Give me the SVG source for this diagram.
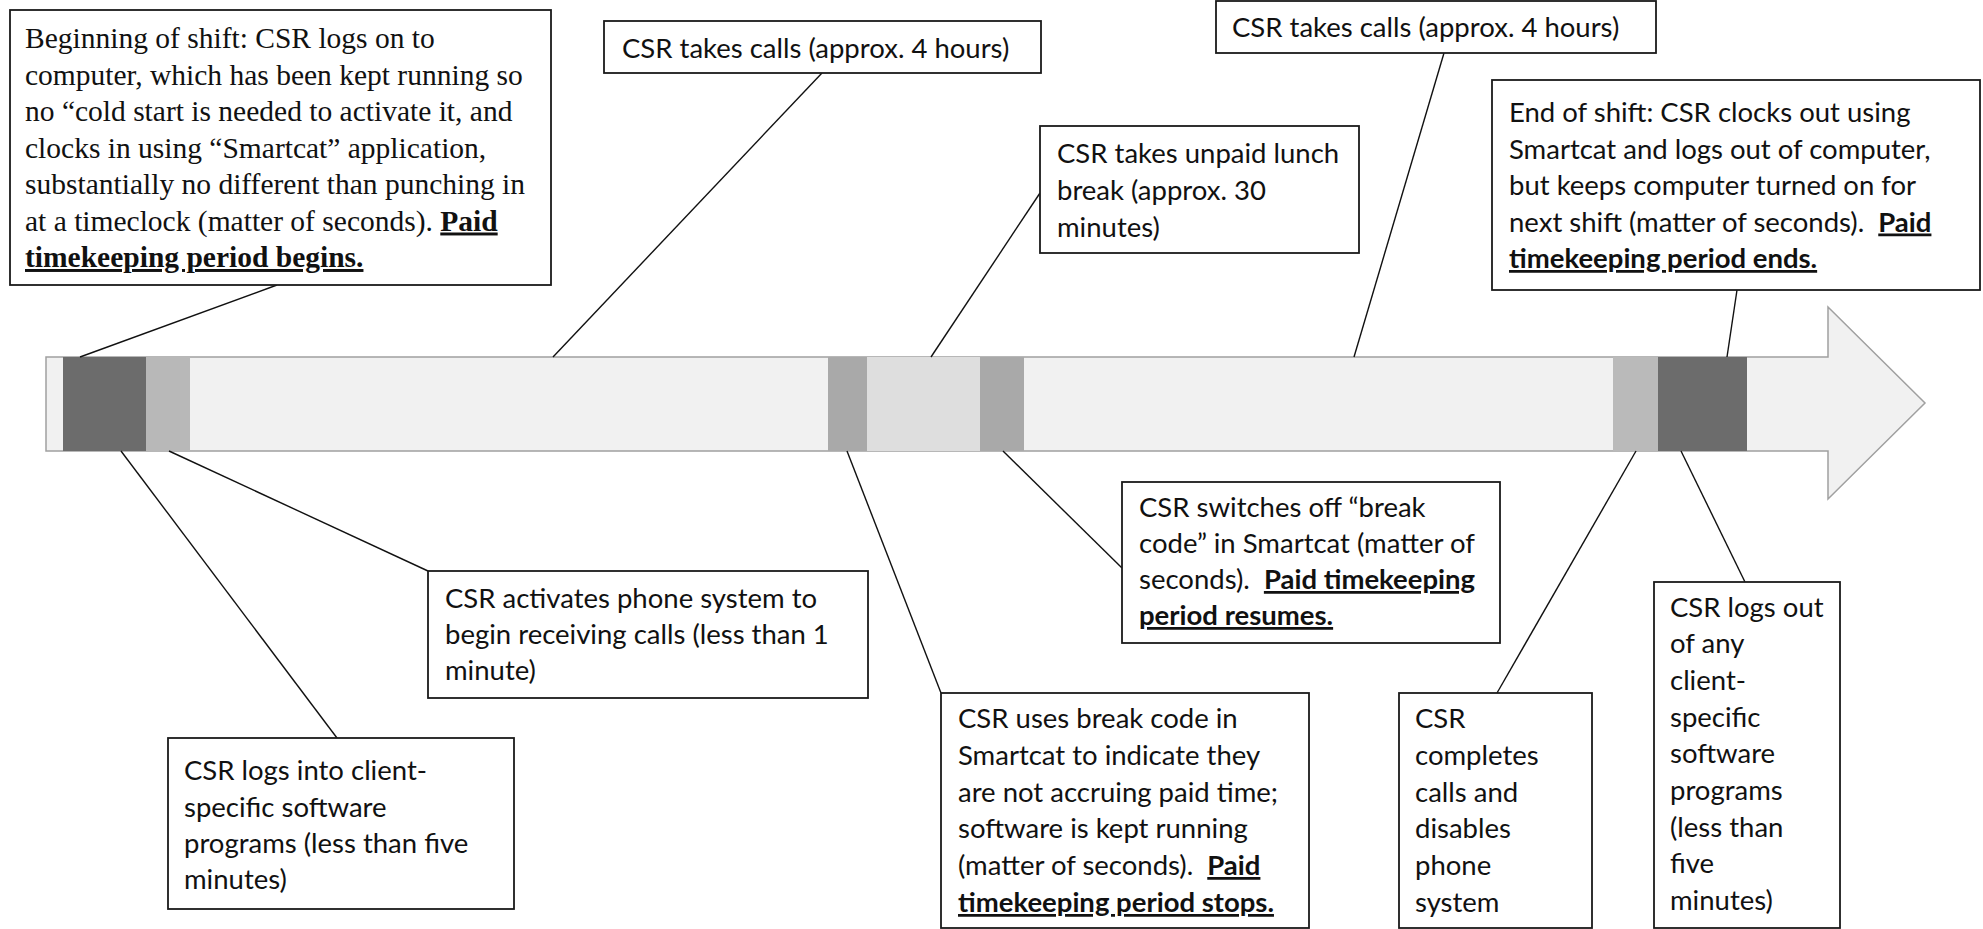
<svg xmlns="http://www.w3.org/2000/svg" width="1983" height="929" viewBox="0 0 1983 929">
<style>
.box{fill:#fff;stroke:#1a1a1a;stroke-width:1.8}
.tr{font-family:"Liberation Serif","Times New Roman",serif;font-size:29.5px;fill:#111;white-space:pre}
.ca{font-family:Lato,"Liberation Sans",sans-serif;font-size:27.5px;fill:#111;white-space:pre}
.b{font-weight:bold;text-decoration:underline}
.con line{stroke:#111;stroke-width:1.4}
</style>
<rect width="1983" height="929" fill="#fff"/>
<g id="timeline">
<path d="M46,357 H1828 V307 L1925,403 L1828,499 V451 H46 Z" fill="#f1f1f1" stroke="#a0a0a0" stroke-width="1.5"/>
<rect x="63" y="357" width="83" height="94" fill="#6c6c6c"/>
<rect x="146" y="357" width="44" height="94" fill="#b8b8b8"/>
<rect x="828" y="357" width="39" height="94" fill="#a9a9a9"/>
<rect x="867" y="357" width="113" height="94" fill="#dedede"/>
<rect x="980" y="357" width="44" height="94" fill="#a9a9a9"/>
<rect x="1613" y="357" width="45" height="94" fill="#bababa"/>
<rect x="1658" y="357" width="89" height="94" fill="#6c6c6c"/>
</g>
<g id="connectors" class="con">
<line x1="277" y1="285" x2="80" y2="357"/>
<line x1="822" y1="73" x2="553" y2="357"/>
<line x1="1040" y1="193" x2="931" y2="357"/>
<line x1="1444" y1="53" x2="1354" y2="357"/>
<line x1="1737" y1="290" x2="1727" y2="357"/>
<line x1="428" y1="571" x2="169" y2="451"/>
<line x1="337" y1="738" x2="121" y2="451"/>
<line x1="941" y1="693" x2="847" y2="451"/>
<line x1="1122" y1="568" x2="1003" y2="451"/>
<line x1="1497" y1="693" x2="1636" y2="451"/>
<line x1="1745" y1="582" x2="1681" y2="451"/>
</g>
<g id="node-begin">
<rect class="box" x="10" y="10" width="541" height="275"/>
<text class="tr" x="25" y="48">Beginning of shift: CSR logs on to</text>
<text class="tr" x="25" y="84.5">computer, which has been kept running so</text>
<text class="tr" x="25" y="121">no “cold start is needed to activate it, and</text>
<text class="tr" x="25" y="157.5">clocks in using “Smartcat” application,</text>
<text class="tr" x="25" y="194">substantially no different than punching in</text>
<text class="tr" x="25" y="230.5">at a timeclock (matter of seconds). <tspan class="b">Paid</tspan></text>
<text class="tr" x="25" y="267"><tspan class="b">timekeeping period begins.</tspan></text>
</g>
<g id="node-calls1">
<rect class="box" x="604" y="21" width="437" height="52"/>
<text class="ca" x="622" y="58">CSR takes calls (approx. 4 hours)</text>
</g>
<g id="node-calls2">
<rect class="box" x="1216" y="1" width="440" height="52"/>
<text class="ca" x="1232" y="37">CSR takes calls (approx. 4 hours)</text>
</g>
<g id="node-lunch">
<rect class="box" x="1040" y="126" width="319" height="127"/>
<text class="ca" x="1057" y="163">CSR takes unpaid lunch</text>
<text class="ca" x="1057" y="200">break (approx. 30</text>
<text class="ca" x="1057" y="237">minutes)</text>
</g>
<g id="node-end">
<rect class="box" x="1492" y="80" width="488" height="210"/>
<text class="ca" x="1509" y="122">End of shift: CSR clocks out using</text>
<text class="ca" x="1509" y="158.5">Smartcat and logs out of computer,</text>
<text class="ca" x="1509" y="195">but keeps computer turned on for</text>
<text class="ca" x="1509" y="231.5">next shift (matter of seconds).  <tspan class="b">Paid</tspan></text>
<text class="ca" x="1509" y="268"><tspan class="b">timekeeping period ends.</tspan></text>
</g>
<g id="node-resume">
<rect class="box" x="1122" y="482" width="378" height="161"/>
<text class="ca" x="1139" y="517">CSR switches off “break</text>
<text class="ca" x="1139" y="553">code” in Smartcat (matter of</text>
<text class="ca" x="1139" y="589">seconds).  <tspan class="b">Paid timekeeping</tspan></text>
<text class="ca" x="1139" y="625"><tspan class="b">period resumes.</tspan></text>
</g>
<g id="node-phone">
<rect class="box" x="428" y="571" width="440" height="127"/>
<text class="ca" x="445" y="608">CSR activates phone system to</text>
<text class="ca" x="445" y="644">begin receiving calls (less than 1</text>
<text class="ca" x="445" y="680">minute)</text>
</g>
<g id="node-login">
<rect class="box" x="168" y="738" width="346" height="171"/>
<text class="ca" x="184" y="780">CSR logs into client-</text>
<text class="ca" x="184" y="816.5">specific software</text>
<text class="ca" x="184" y="853">programs (less than five</text>
<text class="ca" x="184" y="889">minutes)</text>
</g>
<g id="node-breakcode">
<rect class="box" x="941" y="693" width="368" height="235"/>
<text class="ca" x="958" y="728">CSR uses break code in</text>
<text class="ca" x="958" y="765">Smartcat to indicate they</text>
<text class="ca" x="958" y="802">are not accruing paid time;</text>
<text class="ca" x="958" y="838">software is kept running</text>
<text class="ca" x="958" y="875">(matter of seconds).  <tspan class="b">Paid</tspan></text>
<text class="ca" x="958" y="912"><tspan class="b">timekeeping period stops.</tspan></text>
</g>
<g id="node-complete">
<rect class="box" x="1399" y="693" width="193" height="235"/>
<text class="ca" x="1415" y="728">CSR</text>
<text class="ca" x="1415" y="765">completes</text>
<text class="ca" x="1415" y="802">calls and</text>
<text class="ca" x="1415" y="838">disables</text>
<text class="ca" x="1415" y="875">phone</text>
<text class="ca" x="1415" y="912">system</text>
</g>
<g id="node-logout">
<rect class="box" x="1654" y="582" width="186" height="346"/>
<text class="ca" x="1670" y="617">CSR logs out</text>
<text class="ca" x="1670" y="653">of any</text>
<text class="ca" x="1670" y="690">client-</text>
<text class="ca" x="1670" y="727">specific</text>
<text class="ca" x="1670" y="763">software</text>
<text class="ca" x="1670" y="800">programs</text>
<text class="ca" x="1670" y="837">(less than</text>
<text class="ca" x="1670" y="873">five</text>
<text class="ca" x="1670" y="910">minutes)</text>
</g>
</svg>
